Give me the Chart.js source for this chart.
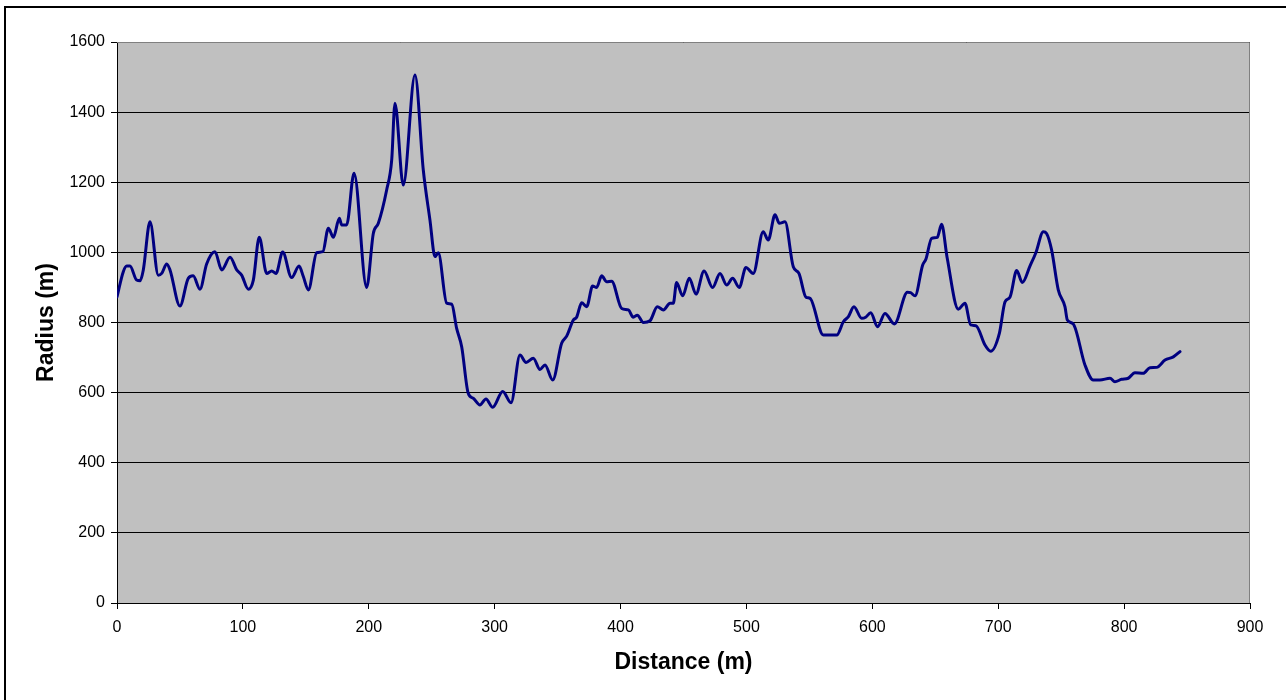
<!DOCTYPE html>
<html>
<head>
<meta charset="utf-8">
<script src="https://cdn.jsdelivr.net/npm/chart.js@4"></script>
<style>
	html, body { margin: 0; padding: 0; background: #fff; overflow: hidden; }
	#wrap { position: relative; width: 1286px; height: 700px; }
	#frame {
		position: absolute; left: 4px; top: 6px; width: 1400px; height: 800px;
		border-top: 2px solid #000; border-left: 2px solid #000; pointer-events: none;
	}
</style>
</head>
<body>
<div id="wrap">
	<canvas id="myChart"></canvas>
	<div id="frame"></div>
</div>
<script>
Chart.defaults.color = 'black';
Chart.defaults.font.family = '"Liberation Sans", Arial, sans-serif';


// DATA
// ================================================================
var distance = [
	0, 5, 7.7, 10.3, 15.6, 18.3, 20.9, 26.2, 32.8, 35.5, 39.5, 42.1, 50, 56.6, 60.5,
	65.9, 71.2, 77.8, 83.2, 89.8, 95.1, 99, 104.3, 108.3, 113, 118.9, 122.9, 126.3,
	131.6, 138.7, 144.6, 148, 152, 158.6, 163.5, 167.9, 171.9, 176.6, 178.5, 182.4,
	188.3, 198.3, 203.6, 207.6, 214.2, 218.2, 220.8, 227.4, 236.7, 243.3, 248.6,
	252.6, 255.2, 261.9, 265.9, 269.8, 273.8, 279, 283, 288.3, 293.1, 298.4, 306.4,
	313, 320.1, 324.9, 330.7, 336, 340, 346.1, 353.2, 357.2, 362.5, 365.1, 369.1,
	373.1, 377.8, 381, 385, 389, 392.9, 400.9, 406.2, 410.1, 413.3, 418.1, 423.4,
	429.2, 434, 439.3, 441.9, 444.5, 449.3, 454.6, 459.9, 466.3, 473.1, 479, 484.3,
	489, 494.3, 499.6, 505.4, 513.3, 517.3, 522.7, 526.1, 530.6, 537.2, 541.7, 547.3,
	550.5, 561.1, 571.7, 577, 581, 585.4, 591.5, 594.7, 598.7, 604.2, 610, 617.5,
	627.9, 630.4, 633.9, 640, 642.6, 647.1, 651.6, 655, 659.5, 668.3, 673.6, 678.1,
	682.3, 689.5, 694, 700.9, 705.4, 709.3, 714.7, 719.1, 725.2, 729.9, 735.8, 738.4,
	742.4, 747.7, 753, 754.9, 759.6, 768.9, 775.5, 780.8, 788.8, 792.7, 798, 803.3,
	808.6, 815.2, 820.5, 825.9, 832.5, 839.1, 844.4
];

var radius = [
	873, 945, 961, 961, 921, 919, 950, 1087, 935, 940, 967, 950, 847, 926, 933,
	895, 967, 1002, 950, 986, 950, 935, 895, 921, 1043, 940, 947, 940,
	1001, 928, 961, 931, 893, 999, 1002, 1069, 1043, 1097, 1078, 1078,
	1226, 900, 1054, 1083, 1178, 1263, 1425, 1192, 1506, 1235, 1092,
	988, 999, 855, 852, 783, 731, 598, 584, 565, 582, 558, 603,
	571, 707, 686, 698, 666, 679, 636, 741, 761, 807, 815, 856,
	845, 904, 900, 933, 916, 918, 840, 836, 815, 821, 800, 805,
	845, 836, 855, 855, 914, 876, 926, 881, 947, 900, 940, 907,
	926, 900, 957, 940, 1059, 1035, 1107, 1083, 1087, 959, 940, 872,
	869, 764, 764, 802, 817, 845, 812, 815, 828, 788, 826, 796,
	886, 885, 876, 964, 981, 1040, 1043, 1080, 983, 838, 855, 793,
	791, 736, 718, 769, 859, 872, 948, 914, 961, 999, 1059, 1054,
	1007, 893, 845, 807, 796, 679, 636, 636, 641, 631, 638, 641,
	657, 655, 671, 672, 693, 702, 717
];

var xRange = [0, 900, 100];    // min, max, step
var yRange = [0, 1600, 200];

var data = {
	datasets: [{
		data: distance.map((d, i) => ({ x: d, y: radius[i] })),
		borderColor: '#000080',
		borderWidth: 3,
		pointRadius: 0,
		fill: false,
		cubicInterpolationMode: 'monotone',
		borderJoinStyle: 'round',
		borderCapStyle: 'round'
	}]
};


// Plugins
// ================================================================
// grey plot area with a thin grey frame, like a spreadsheet chart
var plotArea = {
	id: 'plotArea',
	beforeDraw(chart) {
		var a = chart.chartArea, c = chart.ctx;
		c.save();
		c.fillStyle = '#C0C0C0';
		c.fillRect(a.left, a.top, a.right - a.left, a.bottom - a.top);
		c.restore();
	},
	afterDatasetsDraw(chart) {
		var a = chart.chartArea, c = chart.ctx;
		c.save();
		c.strokeStyle = '#808080';
		c.lineWidth = 1;
		c.beginPath();
		c.moveTo(a.left, a.top + 0.5);
		c.lineTo(a.right - 0.5, a.top + 0.5);
		c.lineTo(a.right - 0.5, a.bottom);
		c.stroke();
		c.restore();
	}
};

var Plugins = {
	legend: { display: false },
	tooltip: { enabled: false }
};

// plain integers, no thousands separator
var plain = value => String(value);


// OPTIONS
// ================================================================
var options = {
	responsive: true,
	maintainAspectRatio: false,
	animation: false,
	plugins: Plugins,
	layout: { padding: { top: 42, right: 36, left: 0, bottom: 0 } },

	scales: {
		x: {
			type: 'linear',
			min: xRange[0],
			max: xRange[1],
			afterFit: s => { s.height = 97; },
			title: {
				display: true,
				text: 'Distance (m)',
				font: { weight: 'bold', size: 23 },
				padding: { top: 0, bottom: 24 }
			},
			ticks: {
				stepSize: xRange[2],
				padding: 9,
				maxRotation: 0,
				callback: plain,
				font: { size: 16 }
			},
			grid: {
				drawOnChartArea: false,
				drawTicks: true,
				tickLength: 6,
				color: '#000'
			},
			border: { color: '#000', width: 1 }
		},

		y: {
			min: yRange[0],
			max: yRange[1],
			afterFit: s => { s.width = 117; },
			title: {
				display: true,
				text: 'Radius (m)',
				font: { weight: 'bold', size: 23 },
				padding: { top: 33, bottom: 0 }
			},
			ticks: {
				stepSize: yRange[2],
				padding: 6,
				callback: plain,
				font: { size: 16 }
			},
			grid: {
				color: '#000',
				lineWidth: 1,
				tickLength: 6
			},
			border: { color: '#000', width: 1 }
		}
	}
};


// Create the chart
var ctx = document.getElementById('myChart').getContext('2d');
var Render = new Chart(ctx, {
	type: 'line',
	data: data,
	options: options,
	plugins: [plotArea]
});
</script>
</body>
</html>
